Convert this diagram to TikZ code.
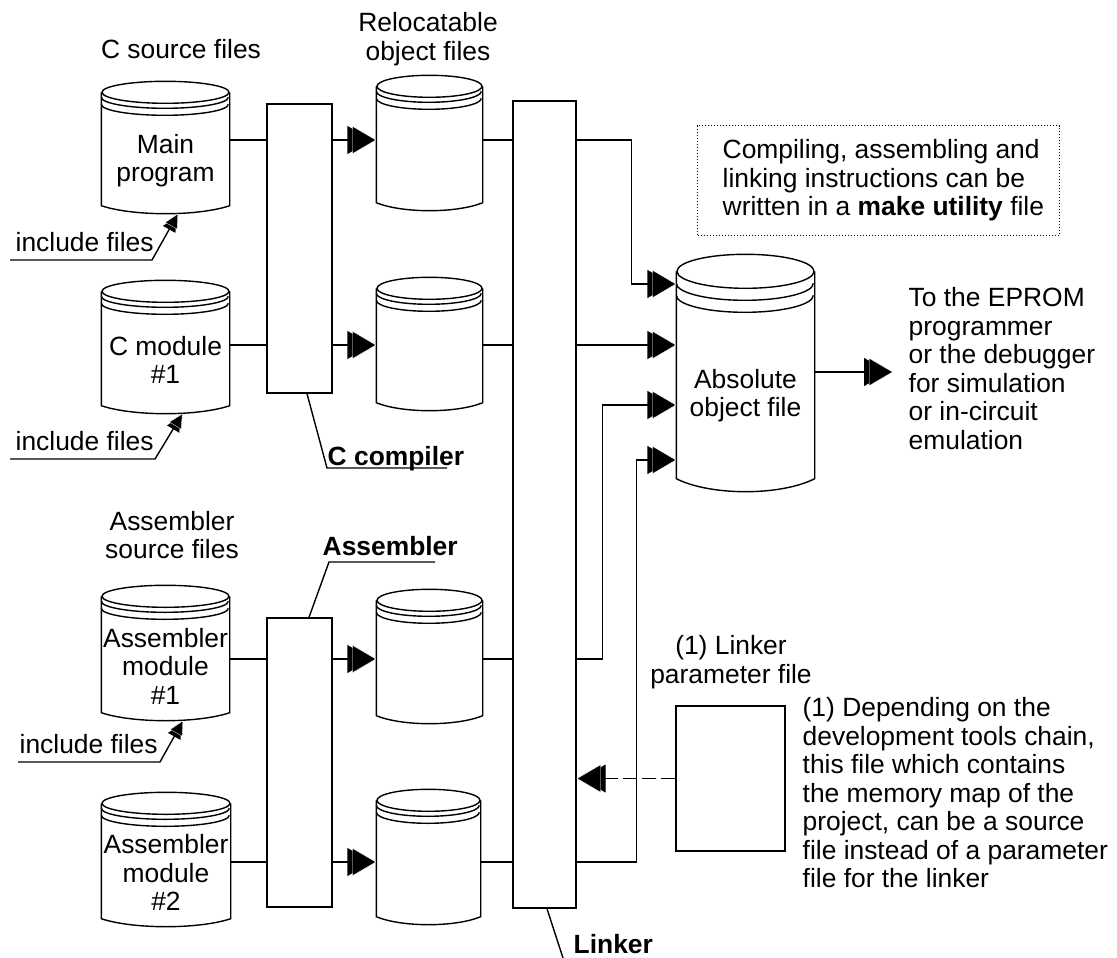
\documentclass[tikz,border=0pt]{standalone}
\usepackage{fontspec}
\setmainfont{Liberation Sans}
\usetikzlibrary{arrows.meta,positioning}

\begin{document}
\begin{tikzpicture}[x=1pt,y=-1pt,line width=1.4pt,
  every node/.style={align=center,inner sep=0pt,font=\fontsize{26.4}{28.5}\selectfont},
  disk/.style={minimum width=#1},
  tool/.style={draw,minimum width=65},
  note/.style={align=left,anchor=north west},
  dotbox/.style={line width=1pt,dash pattern=on 1pt off 2pt},
  feed/.style={-{Triangle[length=24pt,width=28pt,sep=-19pt]Triangle[length=24pt,width=28pt,color=white,fill=black,line width=0.4pt]}},
  hint/.style={-{Triangle[length=14pt,width=14pt,sep=-10pt]Triangle[length=14pt,width=14pt,color=white,fill=black,line width=0.3pt]}}]

    \useasboundingbox (0,0) rectangle (1117,958);

    % sources and object files
    \node[disk=127,minimum height=89] (main) at (165.5,160.5) {Main\\program};
    \node[disk=127,minimum height=90] (cmod) at (165.5,360) {C module\\\#1};
    \node[disk=127,minimum height=92] (amod1) at (165.5,666) {Assembler\\module\\\#1};
    \node[disk=128,minimum height=91] (amod2) at (166,872.5) {Assembler\\module\\\#2};
    \node[disk=105,minimum height=92] (rel1) at (429.5,156) {};
    \node[disk=105,minimum height=90] (rel2) at (429.5,357) {};
    \node[disk=105,minimum height=91] (rel3) at (429.5,669.5) {};
    \node[disk=103,minimum height=92] (rel4) at (428.5,870) {};
    \node[disk=137,minimum height=165] (abs) at (745.5,395.5) {Absolute\\object file};

    % tools
    \node[tool,minimum height=289] (ccomp) at (299.5,248.5) {};
    \node[tool,minimum height=289] (asm) at (299.5,762.5) {};
    \node[tool,minimum width=63,minimum height=807] (linker) at (544.5,504.5) {};
    \node[draw,minimum width=109,minimum height=145] (param) at (730.5,778.5) {};

    % captions
    \node (csrc) at (181,49) {C source files};
    \node (relf) at (428,39) {Relocatable\\object files};
    \node (asrc) at (172,535) {Assembler\\source files};
    \node (parf) at (731,662) {(1) Linker\\parameter file};
    \node[anchor=base west] (ccl) at (327,465) {\textbf{C compiler}};
    \node[anchor=base west] (asl) at (322,555) {\textbf{Assembler}};
    \node[anchor=base west] (lkl) at (573,953) {\textbf{Linker}};
    \node[anchor=base west] (inc1) at (15,251) {include files};
    \node[anchor=base west] (inc2) at (15,450) {include files};
    \node[anchor=base west] (inc3) at (19,753) {include files};
    \node[note] (make) at (722,139)
        {Compiling, assembling and\\linking instructions can be\\written in a \textbf{make utility} file};
    \draw[dotbox] ([shift={(-25,-13.5)}]make.north west) rectangle ([shift={(15,13.5)}]make.south east);
    \node[note] (eprom) at (908,287) {To the EPROM\\programmer\\or the debugger\\for simulation\\or in-circuit\\emulation};
    \node[note] (fnote) at (802,697) {(1) Depending on the\\development tools chain,\\this file which contains\\the memory map of the\\project, can be a source\\file instead of a parameter\\file for the linker};

    % cylinder outlines
    \foreach \f/\w/\r/\a/\b/\s in {main/127/11/5/12/8,cmod/127/11/5/12/8,amod1/127/11/5/12/8,amod2/128/11/5/12/8,
        rel1/105/11/5/12/8,rel2/105/11/5/12/8,rel3/105/11/5/12/8,rel4/103/11/5/12/8,abs/137/17/12/24/13}{
        \draw ([yshift={(\r+\b)*1pt}]\f.north west) -- (\f.south west)
            .. controls +(\w/4,4*\s/3) and +(-\w/4,4*\s/3) .. (\f.south east)
            -- ([yshift={(\r+\b)*1pt}]\f.north east);
        \draw ([yshift={(\r+\b)*1pt}]\f.north) ellipse [x radius={\w*0.5pt},y radius={\r*1pt}];
        \draw ([yshift={(\r+\b-\a)*1pt}]\f.north west) arc [start angle=180,end angle=360,x radius={\w*0.5pt},y radius={\r*1pt}];
        \draw ([yshift={\r*1pt}]\f.north west) arc [start angle=180,end angle=360,x radius={\w*0.5pt},y radius={\r*1pt}];
    }

    % rows
    \coordinate (ra) at (0,140);
    \coordinate (rb) at (0,345);
    \coordinate (rc) at (0,659);
    \coordinate (rd) at (0,862);
    \coordinate (i1) at (0,284);
    \coordinate (i3) at (0,405);
    \coordinate (i4) at (0,460);
    \coordinate (out) at (893,372);

    \foreach \s/\r/\t/\o in {main/ra/ccomp/rel1,cmod/rb/ccomp/rel2,amod1/rc/asm/rel3,amod2/rd/asm/rel4}{
        \draw (\s.east |- \r) -- (\t.west |- \r);
        \draw[feed] (\t.east |- \r) -- (\o.west |- \r);
        \draw (\o.east |- \r) -- (linker.west |- \r);
    }
    \foreach \r/\d/\i in {ra/55/i1,rc/26/i3,rd/60/i4}
        \draw[feed] (linker.east |- \r) -- ++(\d,0) |- (abs.west |- \i);
    \draw[feed] (linker.east |- rb) -- (abs.west |- rb);
    \draw[feed] (abs.east |- out) -- (out);
    \draw[feed,dash pattern=on 14pt off 5pt] (param.west) -- (linker.east |- param.west);

    % pointers
    \draw[hint] ([shift={(-5,9)}]inc1.base west) -- ++(142,0) -- ([shift={(12.5,8)}]main.south);
    \draw[hint] ([shift={(-5,9)}]inc2.base west) -- ++(145,0) -- ([shift={(17,8)}]cmod.south);
    \draw[hint] ([shift={(-1,9)}]inc3.base west) -- ++(142,0) -- ([shift={(17.5,8)}]amod1.south);
    \draw ([xshift=7.5pt]ccomp.south) -- ([yshift=-3pt]ccl.base west) -- ++(120,0);
    \draw ([xshift=9.5pt]asm.north) -- ([shift={(7,7)}]asl.base west) -- ++(106,0);
    \draw ([xshift=2.5pt]linker.south) -- ([shift={(-10,5)}]lkl.base west);
\end{tikzpicture}
\end{document}
